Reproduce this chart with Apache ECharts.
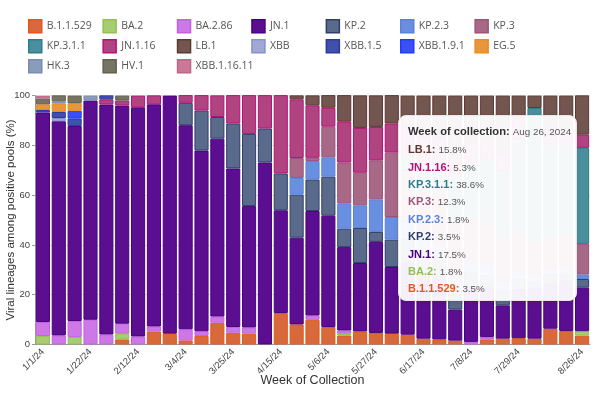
<!DOCTYPE html>
<html>
<head>
<meta charset="utf-8">
<script src="https://cdn.jsdelivr.net/npm/echarts@6/dist/echarts.min.js"></script>
<style>
    html, body { margin: 0; padding: 0; background: #fff; }
    #chart { width: 600px; height: 396px; }
</style>
</head>
<body>
<div id="chart"></div>
<script>
//周
const weeks = ['1/1/24', '1/8/24', '1/15/24', '1/22/24', '1/29/24', '2/5/24', '2/12/24', '2/19/24', '2/26/24', '3/4/24',
    '3/11/24', '3/18/24', '3/25/24', '4/1/24', '4/8/24', '4/15/24', '4/22/24', '4/29/24', '5/6/24', '5/13/24',
    '5/20/24', '5/27/24', '6/3/24', '6/10/24', '6/17/24', '6/24/24', '7/1/24', '7/8/24', '7/15/24', '7/22/24',
    '7/29/24', '8/5/24', '8/12/24', '8/19/24', '8/26/24']

const lineages = ['B.1.1.529', 'BA.2', 'BA.2.86', 'JN.1', 'KP.2', 'KP.2.3', 'KP.3', 'KP.3.1.1', 'JN.1.16', 'LB.1',
    'XBB', 'XBB.1.5', 'XBB.1.9.1', 'EG.5', 'HK.3', 'HV.1', 'XBB.1.16.11']

//各谱系占比 (%)
const b11529 = [0, 0, 0, 0, 0, 2.0, 0, 5.2, 4.3, 1.6, 3.4, 8.7, 4.7, 4.3, 0, 12.6, 8.0, 9.9, 7.0, 3.6, 5.2, 4.6, 4.3, 3.9, 2.3, 2.0, 1.5, 0, 2.0, 2.3, 2.5, 2.3, 6.3, 5.4, 3.5]
const ba2 = [3.4, 0, 3.0, 0, 0, 2.3, 0, 0, 0, 0, 0, 0, 0, 0, 0, 0, 0, 0, 0, 0.7, 0, 0, 0, 0, 0, 0, 0, 0, 0, 0, 0, 0, 0, 0, 1.8]
const ba286 = [5.6, 3.6, 6.4, 9.9, 4.0, 4.0, 3.2, 2.0, 0, 4.5, 1.9, 2.5, 2.3, 2.5, 0, 0, 0, 1.7, 0, 1.3, 0, 0, 0, 0, 0, 0, 0, 1.0, 1.0, 0, 0, 0, 0, 0, 0]
const jn1 = [84.2, 86.1, 78.4, 88.1, 92.4, 87.7, 92.1, 89.3, 95.7, 82.0, 72.6, 71.5, 63.7, 48.8, 73.1, 41.3, 34.9, 42.0, 44.7, 33.5, 27.5, 36.6, 26.8, 29.0, 27.0, 25.0, 12.5, 22.0, 20.0, 13.4, 20.0, 20.0, 18.0, 20.0, 17.5]
const kp2 = [0, 0, 0, 0, 0, 0, 0, 0, 0, 9.0, 16.1, 8.7, 18.1, 29.0, 13.7, 14.8, 17.3, 12.7, 15.7, 7.4, 14.1, 4.0, 11.0, 9.5, 8.0, 7.0, 8.0, 6.0, 5.0, 6.0, 4.0, 3.0, 4.0, 3.0, 3.5]
const kp23 = [0, 0, 0, 0, 0, 0, 0, 0, 0, 0, 0, 0, 0, 0, 0, 0, 6.7, 7.4, 7.8, 10.1, 9.1, 13.1, 9.1, 8.0, 7.0, 6.0, 5.0, 4.0, 4.0, 3.0, 3.0, 2.0, 2.0, 2.0, 1.8]
const kp3 = [0, 0, 0, 0, 0, 0, 0, 0, 0, 0, 0, 0, 0, 0, 0, 0, 8.0, 1.3, 12.3, 16.5, 13.1, 15.7, 25.9, 21.0, 20.0, 21.0, 22.0, 18.0, 17.0, 18.0, 16.0, 14.0, 13.0, 14.0, 12.3]
const kp311 = [0, 0, 0, 0, 0, 0, 0, 0, 0, 0, 0, 0, 0, 0, 0, 0, 0, 0, 0, 0, 0, 0, 0, 4.0, 8.0, 12.0, 18.0, 22.0, 25.0, 27.0, 37.0, 53.7, 37.0, 36.0, 38.6]
const jn116 = [0, 0, 0, 0, 2.1, 2.0, 4.7, 3.6, 0, 3.1, 6.3, 8.7, 11.4, 15.6, 13.4, 31.5, 23.6, 21.1, 7.6, 16.4, 18.0, 13.4, 11.7, 12.0, 11.0, 10.0, 9.0, 8.0, 8.0, 7.0, 8.5, 0, 6.0, 6.0, 5.3]
const lb1 = [0, 0, 0, 0, 0, 0, 0, 0, 0, 0, 0, 0, 0, 0, 0, 0, 1.6, 4.0, 5.1, 10.7, 13.1, 12.7, 11.4, 12.6, 16.7, 17.0, 24.0, 19.0, 18.0, 23.3, 9.0, 5.0, 13.7, 13.6, 15.8]
const xbb = [0, 1.3, 0, 0, 0, 0, 0, 0, 0, 0, 0, 0, 0, 0, 0, 0, 0, 0, 0, 0, 0, 0, 0, 0, 0, 0, 0, 0, 0, 0, 0, 0, 0, 0, 0]
const xbb15 = [1.0, 2.4, 3.0, 0, 1.6, 0, 0, 0, 0, 0, 0, 0, 0, 0, 0, 0, 0, 0, 0, 0, 0, 0, 0, 0, 0, 0, 0, 0, 0, 0, 0, 0, 0, 0, 0]
const xbb191 = [0, 0, 3.1, 0, 0, 0, 0, 0, 0, 0, 0, 0, 0, 0, 0, 0, 0, 0, 0, 0, 0, 0, 0, 0, 0, 0, 0, 0, 0, 0, 0, 0, 0, 0, 0]
const eg5 = [2.3, 3.4, 3.1, 0, 0, 0, 0, 0, 0, 0, 0, 0, 0, 0, 0, 0, 0, 0, 0, 0, 0, 0, 0, 0, 0, 0, 0, 0, 0, 0, 0, 0, 0, 0, 0]
const hk3 = [0, 0.9, 0, 2.0, 0, 0, 0, 0, 0, 0, 0, 0, 0, 0, 0, 0, 0, 0, 0, 0, 0, 0, 0, 0, 0, 0, 0, 0, 0, 0, 0, 0, 0, 0, 0]
const hv1 = [2.3, 2.4, 3.0, 0, 0, 2.0, 0, 0, 0, 0, 0, 0, 0, 0, 0, 0, 0, 0, 0, 0, 0, 0, 0, 0, 0, 0, 0, 0, 0, 0, 0, 0, 0, 0, 0]
const xbb11611 = [1.1, 0, 0, 0, 0, 0, 0, 0, 0, 0, 0, 0, 0, 0, 0, 0, 0, 0, 0, 0, 0, 0, 0, 0, 0, 0, 0, 0, 0, 0, 0, 0, 0, 0, 0]

const values = [b11529, ba2, ba286, jn1, kp2, kp23, kp3, kp311, jn116, lb1, xbb, xbb15, xbb191, eg5, hk3, hv1, xbb11611]

const fills = ['#d8693a', '#a8cc70', '#ce78e8', '#5c0e90', '#5a6a8a', '#6a8ee0', '#a86888', '#4a8f9e', '#b04480',
    '#735650', '#a0a8d6', '#4150ad', '#3a50f5', '#e8963e', '#8a9cbc', '#767464', '#c97896']
const lines = ['#e3581a', '#94c050', '#c460e2', '#4b0082', '#2f3e6a', '#5a82dc', '#9c5478', '#2c7c8c', '#b8107a',
    '#5c3a32', '#8890cc', '#2a3aa0', '#1f3cff', '#ec8a1a', '#7a8cb0', '#62614c', '#c06488']

const monthNames = ['Jan', 'Feb', 'Mar', 'Apr', 'May', 'Jun', 'Jul', 'Aug', 'Sep', 'Oct', 'Nov', 'Dec'];

//柱状图
(function () {
    const dom = document.querySelector('#chart')
    const echartsInstance = echarts.init(dom, null, { renderer: 'canvas' })

    const shown = (i) => (i % 3 === 0 && i <= 30) || i === weeks.length - 1

    const legends = lineages.map((name, i) => ({
        data: [name],
        left: 28 + 74.4 * (i % 7),
        top: 19 + 20 * Math.floor(i / 7),
        padding: 0,
        itemWidth: 13,
        itemHeight: 13,
        icon: 'rect',
        selectedMode: false,
        itemStyle: { borderWidth: 1.5, borderColor: 'inherit' },
        textStyle: { color: '#555', fontSize: 10.5, fontFamily: 'Open Sans' }
    }))

    const series = lineages.map((name, i) => ({
        name: name,
        type: 'bar',
        stack: 'total',
        barCategoryGap: '11%',
        itemStyle: {
            color: fills[i],
            borderColor: lines[i],
            borderWidth: 1
        },
        emphasis: { disabled: true },
        data: values[i].map(v => v > 0 ? v : '-')
    }))

    const font = 'font-family:Liberation Sans,Arial,sans-serif;white-space:nowrap;'

    const option = {
        animation: false,
        legend: legends,
        grid: {
            left: 35,
            right: 10,
            top: 95.6,
            bottom: 51.6,
            containLabel: false,
            outerBoundsMode: 'none'
        },
        tooltip: {
            trigger: 'item',
            triggerOn: 'none',
            alwaysShowContent: true,
            transitionDuration: 0,
            position: [398, 115],
            backgroundColor: 'rgba(255,255,255,0.94)',
            borderColor: '#e6e6e6',
            borderWidth: 1,
            padding: [6, 9, 2, 9],
            extraCssText: 'border-radius:8px;box-shadow:0 1px 4px rgba(0,0,0,0.12);width:159px;',
            formatter: function (p) {
                const idx = p.dataIndex
                const parts = weeks[idx].split('/')
                const date = monthNames[+parts[0] - 1] + ' ' + parts[1] + ', 20' + parts[2]
                let html = '<div style="' + font + 'height:18px;line-height:18px;margin-bottom:1.3px;font-size:11px;">' +
                    '<b style="color:#333;font-size:11.2px;">Week of collection:</b> ' +
                    '<span style="color:#555;font-size:9.8px;">' + date + '</span></div>'
                for (let i = lineages.length - 1; i >= 0; i--) {
                    const v = values[i][idx]
                    if (!(v > 0)) continue
                    html += '<div style="' + font + 'height:17.4px;line-height:17.4px;font-size:11px;">' +
                        '<b style="color:' + lines[i] + ';font-size:11px;">' + lineages[i] + ':</b> ' +
                        '<span style="color:#555;font-size:9.8px;">' + v.toFixed(1) + '%</span></div>'
                }
                return html
            }
        },
        xAxis: {
            type: 'category',
            data: weeks,
            name: 'Week of Collection',
            nameLocation: 'middle',
            nameGap: 30,
            nameMoveOverlap: false,
            nameTextStyle: { color: '#333', fontSize: 12.5, fontFamily: 'Liberation Sans' },
            axisLine: { lineStyle: { color: '#999' } },
            axisTick: {
                alignWithLabel: true,
                interval: (i) => shown(i),
                length: 4,
                lineStyle: { color: '#999' }
            },
            axisLabel: {
                interval: (i) => shown(i),
                rotate: 45,
                margin: 6,
                color: '#444',
                fontSize: 9.5,
                fontFamily: 'Liberation Sans'
            }
        },
        yAxis: {
            type: 'value',
            min: 0,
            max: 100,
            interval: 20,
            name: 'Viral lineages among positive pools (%)',
            nameLocation: 'middle',
            nameGap: 18,
            nameMoveOverlap: false,
            nameTextStyle: { color: '#333', fontSize: 11.5, fontFamily: 'Liberation Sans' },
            axisLine: { show: true, lineStyle: { color: '#999' } },
            axisTick: { show: true, length: 3, lineStyle: { color: '#999' } },
            axisLabel: { color: '#444', fontSize: 9.5, margin: 5, fontFamily: 'Liberation Sans' },
            splitLine: { lineStyle: { color: '#e2e2e2' } }
        },
        series: series
    }

    echartsInstance.setOption(option)
    echartsInstance.dispatchAction({ type: 'showTip', seriesIndex: 0, dataIndex: weeks.length - 1 })
})();
</script>
</body>
</html>
